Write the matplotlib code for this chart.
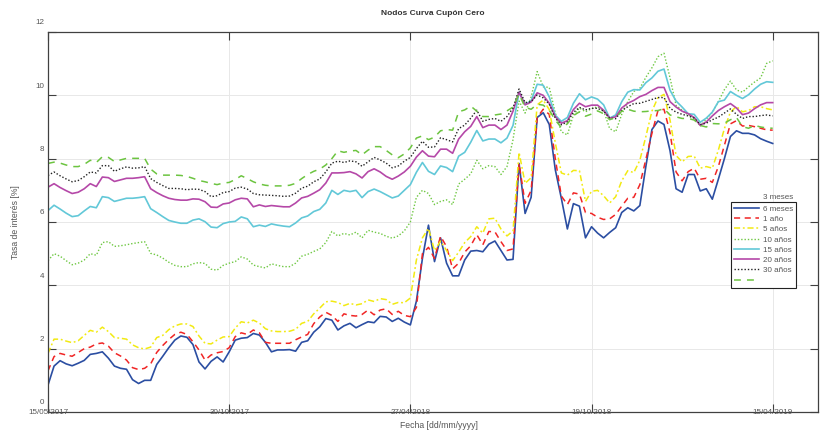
import matplotlib
matplotlib.use("Agg")
import matplotlib.pyplot as plt
import matplotlib.transforms as mtransforms
import numpy as np

# Observation index (business days, sampled every 4 observations)
obs = np.arange(0, 481, 4)
tick_obs = [0, 120, 240, 360, 480]
tick_labels = ['15/05/2017', '30/10/2017', '27/04/2018', '19/10/2018', '15/04/2019']

m3 = [0.85, 1.45, 1.62, 1.52, 1.46, 1.54, 1.63, 1.82, 1.85, 1.90,
      1.70, 1.45, 1.38, 1.35, 1.02, 0.90, 1.00, 1.00, 1.50, 1.76,
      2.03, 2.27, 2.40, 2.36, 2.13, 1.58, 1.36, 1.60, 1.74, 1.58,
      1.90, 2.27, 2.33, 2.35, 2.48, 2.43, 2.20, 1.90, 1.96, 1.96,
      1.97, 1.92, 2.20, 2.25, 2.52, 2.69, 2.95, 2.90, 2.59, 2.72,
      2.80, 2.66, 2.76, 2.85, 2.82, 3.02, 3.00, 2.86, 2.96, 2.84,
      2.75, 3.50, 4.85, 5.90, 4.75, 5.50, 4.70, 4.30, 4.30, 4.80,
      5.08, 5.10, 5.06, 5.30, 5.40, 5.10, 4.80, 4.82, 7.85, 6.27,
      6.78, 9.30, 9.45, 9.08, 7.65, 6.75, 5.78, 6.58, 6.50, 5.50,
      5.85, 5.65, 5.50, 5.67, 5.82, 6.30, 6.45, 6.35, 6.52, 7.76,
      8.92, 9.19, 9.08, 8.25, 7.05, 6.94, 7.50, 7.50, 6.98, 7.05,
      6.72, 7.35, 8.00, 8.70, 8.88, 8.80, 8.80, 8.75, 8.63, 8.55,
      8.48]

m6 = [1.30, 1.75, 1.85, 1.80, 1.76, 1.88, 2.00, 2.05, 2.15, 2.18,
      2.08, 1.87, 1.77, 1.64, 1.40, 1.34, 1.38, 1.52, 1.88, 2.10,
      2.29, 2.45, 2.52, 2.45, 2.22, 1.96, 1.64, 1.80, 1.87, 1.91,
      2.03, 2.38, 2.50, 2.45, 2.59, 2.50, 2.20, 2.17, 2.17, 2.17,
      2.17, 2.28, 2.37, 2.45, 2.79, 3.00, 3.15, 3.05, 2.86, 3.10,
      3.05, 3.03, 3.08, 3.22, 3.07, 3.22, 3.26, 3.08, 3.18, 3.05,
      3.01, 3.30, 5.00, 5.20, 4.85, 5.55, 5.22, 4.52, 4.70, 5.05,
      5.25, 5.60, 5.28, 5.70, 5.69, 5.38, 5.10, 5.15, 7.85, 6.59,
      7.00, 9.30, 9.56, 9.40, 8.00, 6.82, 6.55, 6.92, 6.88, 6.30,
      6.27, 6.15, 6.08, 6.10, 6.24, 6.50, 6.75, 6.78, 7.18, 7.98,
      8.80, 9.52, 9.56, 8.82, 7.58, 7.30, 7.59, 7.70, 7.35, 7.38,
      7.25, 7.75, 8.42, 9.10, 9.20, 9.03, 9.05, 9.01, 8.96, 8.91,
      8.90]

a1 = [1.85, 2.30, 2.30, 2.24, 2.19, 2.25, 2.42, 2.58, 2.52, 2.68,
      2.54, 2.35, 2.33, 2.30, 2.12, 2.03, 1.99, 2.05, 2.35, 2.42,
      2.60, 2.72, 2.78, 2.78, 2.70, 2.40, 2.17, 2.15, 2.27, 2.37,
      2.38, 2.65, 2.85, 2.81, 2.90, 2.81, 2.63, 2.56, 2.54, 2.54,
      2.55, 2.61, 2.80, 2.86, 3.10, 3.28, 3.48, 3.50, 3.46, 3.36,
      3.43, 3.38, 3.42, 3.54, 3.49, 3.58, 3.55, 3.40, 3.46, 3.45,
      3.60, 4.80, 5.50, 5.80, 5.10, 5.40, 5.10, 4.78, 5.05, 5.35,
      5.54, 5.85, 5.65, 6.10, 6.12, 5.78, 5.56, 5.72, 8.20, 7.22,
      7.40, 9.70, 9.85, 9.55, 8.50, 7.55, 7.48, 7.63, 7.62, 6.65,
      6.97, 7.00, 6.83, 6.60, 6.80, 7.30, 7.62, 7.56, 7.95, 8.70,
      9.50, 9.93, 10.03, 9.22, 8.10, 7.90, 8.07, 8.08, 7.70, 7.75,
      7.70, 8.27, 8.95, 9.47, 9.65, 9.48, 9.52, 9.64, 9.64, 9.58,
      9.54]

a5 = [4.78, 5.00, 4.92, 4.78, 4.65, 4.70, 4.80, 5.00, 4.95, 5.35,
      5.38, 5.23, 5.25, 5.28, 5.32, 5.35, 5.38, 5.01, 4.96, 4.86,
      4.73, 4.63, 4.59, 4.59, 4.68, 4.72, 4.69, 4.51, 4.48, 4.63,
      4.70, 4.75, 4.90, 4.83, 4.64, 4.59, 4.55, 4.68, 4.63, 4.59,
      4.59, 4.70, 4.92, 4.98, 5.07, 5.15, 5.35, 5.70, 5.56, 5.64,
      5.59, 5.68, 5.50, 5.74, 5.68, 5.64, 5.55, 5.49, 5.56, 5.72,
      6.00, 6.78, 7.00, 6.90, 6.55, 6.65, 6.70, 6.55, 7.20, 7.35,
      7.52, 7.95, 7.68, 7.78, 7.75, 7.50, 7.75, 8.60, 9.82, 9.44,
      9.95, 10.75, 10.27, 10.25, 9.45, 8.85, 8.75, 9.38, 9.60, 9.48,
      9.58, 9.64, 9.52, 8.95, 8.85, 9.40, 9.80, 10.12, 10.22, 10.57,
      10.87, 11.22, 11.33, 10.55, 9.68, 9.53, 9.38, 9.30, 9.02, 9.25,
      9.46, 9.80, 10.18, 10.45, 10.17, 10.10, 10.27, 10.42, 10.55, 11.01,
      11.09]

a10 = [6.36, 6.53, 6.41, 6.28, 6.17, 6.20, 6.35, 6.49, 6.45, 6.80,
       6.77, 6.65, 6.70, 6.75, 6.75, 6.77, 6.80, 6.42, 6.30, 6.17,
       6.05, 6.00, 5.96, 5.96, 6.06, 6.10, 6.01, 5.84, 5.82, 5.95,
       6.00, 6.02, 6.16, 6.10, 5.85, 5.90, 5.86, 5.94, 5.90, 5.87,
       5.85, 5.97, 6.13, 6.19, 6.33, 6.40, 6.60, 7.00, 6.87, 7.00,
       6.96, 7.00, 6.77, 6.96, 7.04, 6.96, 6.86, 6.76, 6.82, 7.00,
       7.18, 7.57, 7.88, 7.60, 7.50, 7.77, 7.72, 7.59, 8.08, 8.20,
       8.52, 8.89, 8.56, 8.62, 8.62, 8.50, 8.65, 9.05, 10.10, 9.71,
       9.83, 10.35, 10.32, 9.95, 9.37, 9.18, 9.30, 9.75, 10.05, 9.86,
       9.95, 9.88, 9.70, 9.28, 9.38, 9.80, 10.10, 10.18, 10.17, 10.40,
       10.55, 10.76, 10.83, 10.16, 9.82, 9.63, 9.42, 9.40, 9.15, 9.28,
       9.47, 9.80, 9.85, 10.12, 10.00, 9.90, 10.02, 10.20, 10.35, 10.43,
       10.41]

a15 = [7.10, 7.21, 7.09, 6.99, 6.90, 6.94, 7.05, 7.21, 7.12, 7.42,
       7.40, 7.28, 7.33, 7.38, 7.38, 7.40, 7.43, 7.05, 6.93, 6.83,
       6.75, 6.71, 6.69, 6.69, 6.73, 6.72, 6.64, 6.47, 6.46, 6.57,
       6.60, 6.70, 6.75, 6.73, 6.48, 6.54, 6.49, 6.52, 6.50, 6.48,
       6.48, 6.60, 6.76, 6.81, 6.91, 7.02, 7.23, 7.55, 7.55, 7.56,
       7.59, 7.52, 7.39, 7.59, 7.68, 7.58, 7.44, 7.35, 7.45, 7.58,
       7.76, 8.05, 8.25, 8.08, 8.06, 8.30, 8.30, 8.17, 8.62, 8.85,
       9.02, 9.33, 8.98, 9.06, 9.06, 8.92, 9.06, 9.50, 10.10, 9.70,
       9.79, 10.08, 10.00, 9.75, 9.33, 9.12, 9.20, 9.55, 9.75, 9.64,
       9.69, 9.69, 9.53, 9.28, 9.32, 9.60, 9.75, 9.84, 9.96, 10.03,
       10.15, 10.25, 10.25, 9.80, 9.63, 9.50, 9.42, 9.30, 9.05, 9.16,
       9.35, 9.52, 9.64, 9.74, 9.60, 9.39, 9.44, 9.58, 9.70, 9.77,
       9.77]

a20 = [7.47, 7.58, 7.46, 7.36, 7.27, 7.31, 7.43, 7.58, 7.55, 7.78,
       7.78, 7.60, 7.68, 7.74, 7.70, 7.71, 7.75, 7.37, 7.25, 7.15,
       7.06, 7.06, 7.05, 7.02, 7.04, 7.03, 6.96, 6.80, 6.83, 6.93,
       6.96, 7.07, 7.10, 7.04, 6.90, 6.86, 6.85, 6.84, 6.83, 6.81,
       6.82, 6.91, 7.07, 7.13, 7.27, 7.36, 7.58, 7.86, 7.92, 7.88,
       7.93, 7.90, 7.76, 7.90, 8.04, 7.96, 7.86, 7.71, 7.77, 7.92,
       8.04, 8.32, 8.55, 8.36, 8.37, 8.66, 8.60, 8.53, 8.95, 9.06,
       9.28, 9.53, 9.18, 9.24, 9.27, 9.18, 9.33, 9.60, 10.20, 9.77,
       9.80, 10.01, 9.92, 9.72, 9.28, 9.07, 9.16, 9.46, 9.62, 9.54,
       9.59, 9.59, 9.50, 9.28, 9.26, 9.52, 9.64, 9.74, 9.75, 9.81,
       9.87, 9.93, 9.93, 9.59, 9.47, 9.40, 9.35, 9.28, 9.08, 9.12,
       9.23, 9.31, 9.44, 9.57, 9.40, 9.27, 9.33, 9.33, 9.36, 9.38,
       9.35]

a30 = [7.85, 7.89, 7.86, 7.80, 7.75, 7.75, 7.82, 7.95, 7.88, 8.06,
       8.04, 7.91, 7.96, 8.01, 8.01, 8.01, 8.01, 7.67, 7.52, 7.48,
       7.48, 7.48, 7.47, 7.44, 7.38, 7.31, 7.27, 7.22, 7.18, 7.23,
       7.25, 7.34, 7.46, 7.37, 7.27, 7.20, 7.16, 7.14, 7.14, 7.14,
       7.16, 7.22, 7.37, 7.50, 7.60, 7.67, 7.80, 8.00, 8.25, 8.20,
       8.24, 8.26, 8.12, 8.27, 8.38, 8.38, 8.26, 8.12, 8.03, 8.15,
       8.34, 8.65, 8.72, 8.60, 8.68, 8.88, 8.92, 8.90, 9.48, 9.54,
       9.66, 9.50, 9.33, 9.33, 9.38, 9.41, 9.51, 9.63, 10.04, 9.62,
       9.56, 9.72, 9.69, 9.53, 9.22, 8.98, 9.10, 9.36, 9.48, 9.34,
       9.41, 9.51, 9.42, 9.23, 9.30, 9.50, 9.56, 9.50, 9.48, 9.49,
       9.51, 9.52, 9.58, 9.38, 9.32, 9.27, 9.27, 9.22, 9.05, 9.00,
       9.11, 9.10, 9.12, 9.23, 9.30, 9.01, 8.96, 9.05, 9.00, 8.97,
       8.96]

series = [m3, m6, a1, a5, a10, a15, a20, a30]
colors = ['#2b4ea2', '#f02525', '#f2ea12', '#6fc843',
          '#62c8d8', '#b548a8', '#222222', '#6cc440']
styles = ['-', (0, (4, 3)), (0, (4, 1.8, 1.2, 1.8)), (0, (1, 1.4)),
          '-', '-', (0, (1, 1.4)), (0, (4.5, 4))]
widths = [1.2, 1.1, 1.1, 1.0, 1.2, 1.2, 1.0, 1.1]
legend_labels = ['6 meses', '1 año', '5 años', '10 años', '15 años',
                 '20 años', '30 años', ' ']

plt.rcParams['font.family'] = ['Liberation Sans', 'DejaVu Sans']
text_gray = '#555555'
axis_gray = '#404040'

W, H = 821, 432
fig = plt.figure(figsize=(W / 100, H / 100), dpi=100)
ax = fig.add_axes([48 / W, 20 / H, 770 / W, 380 / H])

lines = []
for vals, c, ls, lw in zip(series, colors, styles, widths):
    ln, = ax.plot(obs, vals, color=c, linestyle=ls, linewidth=lw)
    lines.append(ln)

ax.set_xlim(0, 510)
ax.set_ylim(0, 12)
ax.set_xticks(tick_obs)
ax.set_yticks(range(0, 13, 2))
ax.grid(True, color='#e8e8e8', linewidth=0.7)
ax.set_axisbelow(True)
ax.tick_params(direction='in', length=5.8, width=0.8, top=True, right=True,
               colors=axis_gray, labelbottom=False, labelleft=False)
for sp in ax.spines.values():
    sp.set_color(axis_gray)
    sp.set_linewidth(0.9)

# tick labels, placed the way the exported figure shows them
ytrans = ax.get_yaxis_transform() + mtransforms.ScaledTranslation(
    -4 / 100, 9 / 100, fig.dpi_scale_trans)
for v in range(0, 13, 2):
    ax.text(0, v, str(v), transform=ytrans, ha='right', va='center',
            fontsize=5.8, color=text_gray)
xtrans = ax.get_xaxis_transform() + mtransforms.ScaledTranslation(
    0, -1 / 100, fig.dpi_scale_trans)
for t, lab in zip(tick_obs, tick_labels):
    ax.text(t, 0, lab, transform=xtrans, ha='center', va='center',
            fontsize=5.8, color=text_gray)

ax.set_title('Nodos Curva Cupón Cero', fontsize=6, fontweight='bold',
             color='#333333', pad=12)
fig.text(439 / W, 1 - 425 / H, 'Fecha [dd/mm/yyyy]', ha='center', va='center',
         fontsize=6.2, color=text_gray)
fig.text(15 / W, 1 - 222 / H, 'Tasa de interés [%]', ha='center', va='center',
         rotation=90, fontsize=6.2, color=text_gray)

leg = ax.legend(lines, legend_labels, loc='upper left',
                bbox_to_anchor=(731 / W, 1 - 202 / H),
                bbox_transform=fig.transFigure, fontsize=5.8, frameon=True,
                fancybox=False, edgecolor='#222222', framealpha=1,
                borderpad=0.4, labelspacing=0.32, handlelength=3.1,
                handletextpad=0.45, borderaxespad=0)
leg.get_frame().set_linewidth(0.8)
for txt in leg.get_texts():
    txt.set_color(text_gray)
fig.text(763 / W, 1 - 198 / H, '3 meses', ha='left', va='center',
         fontsize=5.8, color=text_gray)

fig.savefig('out.png', dpi=100)
